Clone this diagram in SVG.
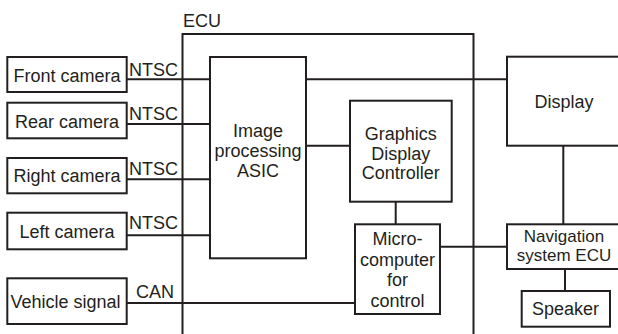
<svg xmlns="http://www.w3.org/2000/svg" width="618" height="334" viewBox="0 0 618 334">
<style>
.b{fill:#fff;stroke:#231f20;stroke-width:2}
.l{fill:none;stroke:#231f20;stroke-width:2}
text{font-family:"Liberation Sans",Arial,sans-serif;font-size:18px;fill:#231f20}
.c{text-anchor:middle}
.s{font-size:17px}
</style>
<rect width="618" height="334" fill="#fff"/>
<g id="ecu">
<path class="l" d="M182.5,334 V34 H473.5 V334"/>
<text x="183" y="26.7">ECU</text>
</g>
<g id="connectors">
<path class="l" d="M127,79.3 H210 M306,79.3 H507"/>
<path class="l" d="M127,124 H210"/>
<path class="l" d="M127,179.3 H210"/>
<path class="l" d="M127,235.3 H210"/>
<path class="l" d="M127,303 H355"/>
<path class="l" d="M306,145.7 H350"/>
<path class="l" d="M395.7,201.7 V224.3"/>
<path class="l" d="M440,246.7 H507"/>
<path class="l" d="M563.3,145.7 V224.3"/>
<path class="l" d="M565,269 V291"/>
<text x="129" y="75.5">NTSC</text>
<text x="129" y="120">NTSC</text>
<text x="129" y="175">NTSC</text>
<text x="129" y="229.3">NTSC</text>
<text x="136" y="298.3">CAN</text>
</g>
<g id="front-camera"><rect class="b" x="7.3" y="57" width="119.4" height="35"/><text class="c" x="67" y="81.7">Front camera</text></g>
<g id="rear-camera"><rect class="b" x="7.3" y="102.7" width="119.4" height="35.6"/><text class="c" x="67" y="128.3">Rear camera</text></g>
<g id="right-camera"><rect class="b" x="7.3" y="158" width="119.4" height="35.3"/><text class="c" x="67" y="181.7">Right camera</text></g>
<g id="left-camera"><rect class="b" x="7.3" y="212.7" width="119.4" height="36.6"/><text class="c" x="67" y="238.3">Left camera</text></g>
<g id="vehicle-signal"><rect class="b" x="7.3" y="278.3" width="119.4" height="45.7"/><text class="c" x="65.5" y="308.3">Vehicle signal</text></g>
<g id="asic"><rect class="b" x="210" y="57" width="96" height="201.3"/><text class="c" x="258" y="137.3">Image</text><text class="c" x="258" y="157">processing</text><text class="c" x="258" y="176.7">ASIC</text></g>
<g id="gdc"><rect class="b" x="350" y="100.7" width="101.7" height="101"/><text class="c" x="400.8" y="140">Graphics</text><text class="c" x="400.8" y="159.5">Display</text><text class="c" x="400.8" y="179.3">Controller</text></g>
<g id="micro"><rect class="b" x="355" y="224.3" width="85" height="89.7"/><text class="c" x="397.5" y="245">Micro-</text><text class="c" x="397.5" y="265.7">computer</text><text class="c" x="397.5" y="286.4">for</text><text class="c" x="397.5" y="306.7">control</text></g>
<g id="display"><rect class="b" x="507" y="56.7" width="114" height="89"/><text class="c" x="564" y="108.3">Display</text></g>
<g id="navigation"><rect class="b" x="507" y="224.3" width="114" height="44.7"/><text class="c s" x="564" y="242.2">Navigation</text><text class="c s" x="564" y="261.4">system ECU</text></g>
<g id="speaker"><rect class="b" x="521.7" y="291" width="88.3" height="35.7"/><text class="c" x="565.5" y="315">Speaker</text></g>
</svg>
